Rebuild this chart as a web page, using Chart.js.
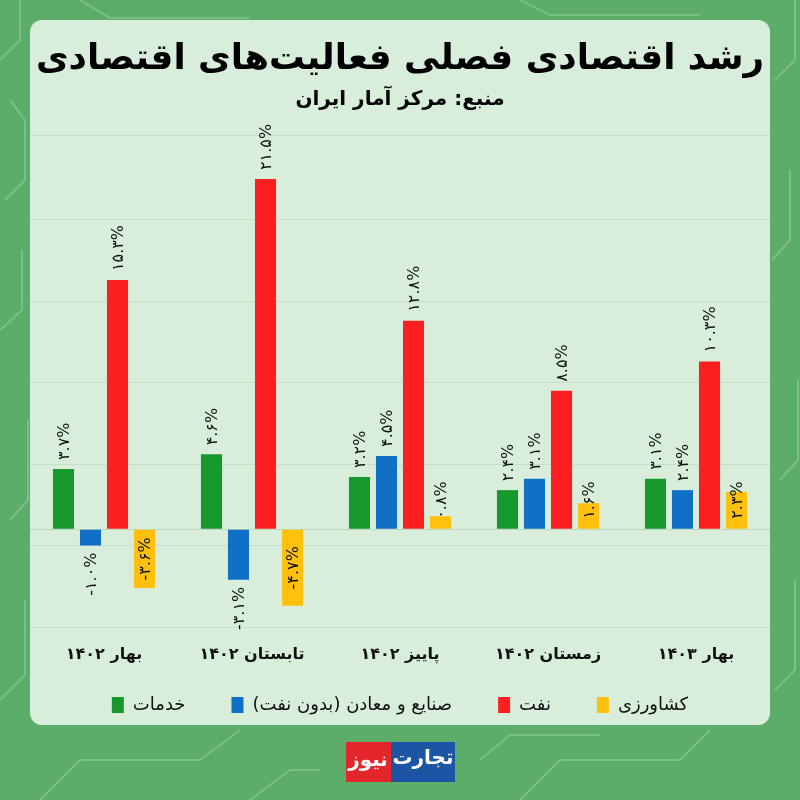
<!DOCTYPE html>
<html lang="fa">
<head>
<meta charset="utf-8">
<title>رشد اقتصادی فصلی فعالیت‌های اقتصادی</title>
<script src="https://cdn.jsdelivr.net/npm/chart.js@4.4.1/dist/chart.umd.min.js"></script>
<style>
  html, body { margin: 0; padding: 0; background: #5cad69; }
  #wrap { width: 800px; height: 800px; }
  canvas { direction: rtl; }
</style>
</head>
<body>
<div id="wrap"><canvas id="growthChart" width="800" height="800"></canvas></div>
<script>
const titleText = "رشد اقتصادی فصلی فعالیت‌های اقتصادی";
const subtitleText = "منبع: مرکز آمار ایران";
const seasons = ["بهار ۱۴۰۲", "تابستان ۱۴۰۲", "پاییز ۱۴۰۲", "زمستان ۱۴۰۲", "بهار ۱۴۰۳"];
const seriesNames = ["خدمات", "صنایع و معادن (بدون نفت)", "نفت", "کشاورزی"];
const services = [3.7, 4.6, 3.2, 2.4, 3.1];
const industry = [-1.0, -3.1, 4.5, 3.1, 2.4];
const oil = [15.3, 21.5, 12.8, 8.5, 10.3];
const agriculture = [-3.6, -4.7, 0.8, 1.6, 2.3];
const gridValues = [-6, -1, 0, 4, 9, 14, 19, 24.2];
const seriesColors = ["#17982b", "#0f70c6", "#fd1f1f", "#ffc10d"];

const FONT = "'DejaVu Sans', sans-serif";
const faDigits = "۰۱۲۳۴۵۶۷۸۹";

function toFa(v) {
  return v.toFixed(1).replace(/[0-9]/g, d => faDigits[d]) + "%";
}

// faint circuit traces on the green backdrop
const traces = [
  [[0, 60], [20, 40], [20, 0]],
  [[5, 200], [25, 180], [25, 120], [10, 100]],
  [[0, 330], [22, 310], [22, 250]],
  [[10, 520], [28, 500], [28, 420]],
  [[0, 700], [25, 675], [25, 600]],
  [[775, 80], [795, 60], [795, 0]],
  [[772, 260], [790, 240], [790, 170]],
  [[780, 480], [798, 460], [798, 380]],
  [[775, 690], [795, 670], [795, 580]],
  [[40, 800], [80, 760], [200, 760], [240, 730]],
  [[520, 800], [560, 760], [680, 760], [710, 730]],
  [[250, 800], [290, 770], [320, 770]],
  [[480, 760], [510, 735], [600, 735]],
  [[80, 0], [110, 18], [250, 18]],
  [[520, 0], [550, 15], [700, 15]]
];

const backdrop = {
  id: "backdrop",
  beforeDraw(chart) {
    const c = chart.ctx;
    c.save();
    c.fillStyle = "#5cad69";
    c.fillRect(0, 0, chart.width, chart.height);
    c.strokeStyle = "rgba(160, 215, 170, 0.45)";
    c.lineWidth = 2;
    traces.forEach(t => {
      c.beginPath();
      t.forEach((p, i) => i ? c.lineTo(p[0], p[1]) : c.moveTo(p[0], p[1]));
      c.stroke();
    });
    c.fillStyle = "#d8eedb";
    c.beginPath();
    c.roundRect(30, 20, 740, 705, 12);
    c.fill();

    c.fillStyle = "#000";
    c.textAlign = "center";
    c.textBaseline = "middle";
    c.font = "bold 40px " + FONT;
    let w = c.measureText(titleText).width;
    let size = Math.min(44, 40 * 728 / w);
    c.font = "bold " + size.toFixed(1) + "px " + FONT;
    c.fillText(titleText, 400, 60);
    c.font = "bold 20px " + FONT;
    c.fillText(subtitleText, 400, 100);
    c.restore();
  }
};

const valueLabels = {
  id: "valueLabels",
  afterDatasetsDraw(chart) {
    const c = chart.ctx;
    c.save();
    c.direction = "ltr";
    c.font = "16px " + FONT;
    c.fillStyle = "#111";
    c.textBaseline = "middle";
    chart.data.datasets.forEach((ds, di) => {
      chart.getDatasetMeta(di).data.forEach((bar, i) => {
        const v = ds.data[i];
        const txt = toFa(v);
        let y, align;
        if (di === 3) {
          if (v >= 0) { y = bar.base - 10; align = "left"; }
          else { y = (bar.base + bar.y) / 2; align = "center"; }
        } else if (v >= 0) {
          y = bar.y - 9; align = "left";
        } else {
          y = bar.y + 7; align = "right";
        }
        c.save();
        c.translate(bar.x, y);
        c.rotate(-Math.PI / 2);
        c.textAlign = align;
        c.fillText(txt, 0, 1);
        c.restore();
      });
    });
    c.restore();
  }
};

const logo = {
  id: "logo",
  afterDraw(chart) {
    const c = chart.ctx;
    c.save();
    c.fillStyle = "#e3262b";
    c.fillRect(346, 742, 45, 40);
    c.fillStyle = "#1c55a3";
    c.fillRect(391, 742, 64, 40);
    c.fillStyle = "#fff";
    c.textAlign = "center";
    c.textBaseline = "middle";
    c.font = "bold 20px " + FONT;
    c.fillText("نیوز", 368, 761);
    c.fillText("تجارت", 423, 759);
    c.restore();
  }
};

const ctx = document.getElementById("growthChart").getContext("2d");
new Chart(ctx, {
  type: "bar",
  data: {
    labels: seasons,
    datasets: [services, industry, oil, agriculture].map((vals, i) => ({
      label: seriesNames[i],
      data: vals,
      backgroundColor: seriesColors[i],
      borderWidth: 0,
      barPercentage: 0.78,
      categoryPercentage: 0.73
    }))
  },
  options: {
    responsive: false,
    animation: false,
    layout: { padding: { top: 135, left: 30, right: 30, bottom: 76 } },
    plugins: {
      legend: {
        position: "bottom",
        textDirection: "rtl",
        labels: {
          boxWidth: 12,
          boxHeight: 16,
          padding: 10,
          color: "#111",
          font: { family: FONT, size: 18 },
          // leading em spaces sit on the visual right in rtl text, widening the gap to the next item
          generateLabels: chart => Chart.defaults.plugins.legend.labels.generateLabels(chart).map((item, i, all) => {
            if (i < all.length - 1) item.text = "\u2003\u2003" + item.text;
            return item;
          })
        }
      },
      tooltip: { enabled: false },
      title: { display: false }
    },
    scales: {
      x: {
        grid: { display: false, drawTicks: false },
        border: { display: false },
        ticks: { color: "#111", padding: 18, font: { family: FONT, size: 16, weight: "bold" } },
        afterFit: axis => { axis.height = 59; }
      },
      y: {
        min: -6,
        max: 24.2,
        afterBuildTicks: axis => { axis.ticks = gridValues.map(v => ({ value: v })); },
        ticks: { display: false },
        grid: {
          drawTicks: false,
          color: c => c.tick && c.tick.value === 0 ? "#bcd8c0" : "#c5e0c9"
        },
        border: { display: false }
      }
    }
  },
  plugins: [backdrop, valueLabels, logo]
});
</script>
</body>
</html>
